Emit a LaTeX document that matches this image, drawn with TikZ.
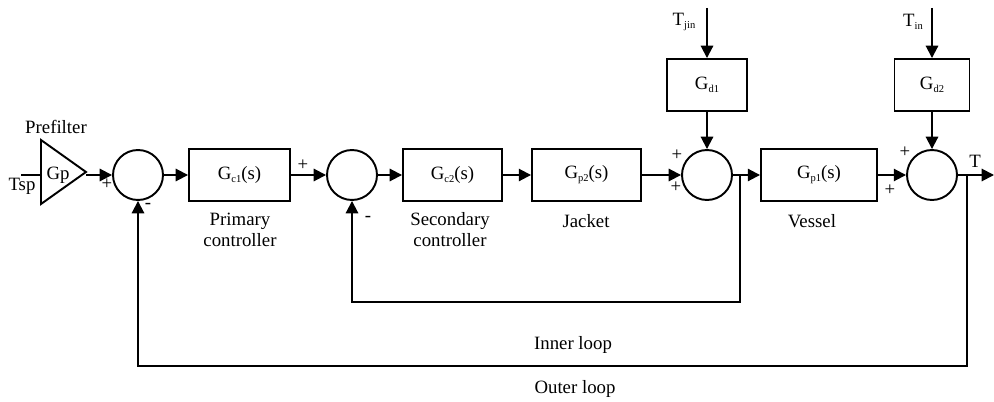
\documentclass[tikz,border=0pt]{standalone}
\usepackage{fontspec}
\setmainfont{Liberation Serif}
\usetikzlibrary{arrows.meta}
\begin{document}
\begin{tikzpicture}[x=0.02cm,y=-0.02cm,
  every node/.style={font=\fontsize{10.7}{12}\selectfont, inner sep=0pt},
  blk/.style={draw, line width=1.1pt, minimum height=1.04cm},
  sumc/.style={draw, circle, line width=1.1pt, minimum size=1cm},
  wire/.style={line width=1.1pt},
  arr/.style={wire, -{Triangle[length=7pt,width=7pt]}},
  sub/.style={}]
\newcommand{\sbs}[1]{\raisebox{-0.35ex}{\fontsize{6}{6}\selectfont #1}}
\useasboundingbox (0,0) rectangle (994,402);
% prefilter
\draw[wire] (41,140) -- (86,172) -- (41,204) -- cycle;
\coordinate (gpapex) at (86,175);
\coordinate (tspin) at (21,175);
\node (gp) at (58,175) {Gp};
\node (pref) at (56,127) {Prefilter};
\node (tsp) at (22,186) {Tsp};
% blocks
\node[sumc] (s1) at (138,175) {};
\node[blk, minimum width=2.02cm] (gc1) at (239.5,175) {G\sbs{c1}(s)};
\node[sumc] (s2) at (352,175) {};
\node[blk, minimum width=1.98cm] (gc2) at (452.5,175) {G\sbs{c2}(s)};
\node[blk, minimum width=2.18cm] (gp2) at (586.5,175) {G\sbs{p2}(s)};
\node[sumc] (s3) at (707,175) {};
\node[blk, minimum width=1.6cm] (gd1) at (707,85) {G\sbs{d1}};
\node[blk, minimum width=2.32cm] (gp1) at (819,175) {G\sbs{p1}(s)};
\node[sumc] (s4) at (932,175) {};
\node[blk, minimum width=1.5cm] (gd2) at (932,85) {G\sbs{d2}};
\coordinate (tjinsrc) at (707,8);
\coordinate (tinsrc) at (932,8);
\coordinate (out) at (994,175);
% labels
\node (l1) at (240,221) {Primary};
\node (l1b) at (240,240) {controller};
\node (l2) at (450,221) {Secondary};
\node (l2b) at (450,240) {controller};
\node (l3) at (586,221) {Jacket};
\node (l4) at (812,221) {Vessel};
\node (tjin) at (684,22) {T\sbs{jin}};
\node (tin) at (913,22) {T\sbs{in}};
\node (tout) at (975,161) {T};
\node (inner) at (573,345) {Inner loop};
\node (outer) at (575,389) {Outer loop};
% signs
\node at (107,184) {+};
\node at (148,206) {-};
\node at (303,165) {+};
\node at (368,219) {-};
\node at (677,155) {+};
\node at (676,187) {+};
\node at (905,152) {+};
\node at (890,190) {+};
% connectors
\draw[wire] (tspin) -- (41,175);
\draw[arr] (gpapex) -- (s1);
\draw[arr] (s1) -- (gc1);
\draw[arr] (gc1) -- (s2);
\draw[arr] (s2) -- (gc2);
\draw[arr] (gc2) -- (gp2);
\draw[arr] (gp2) -- (s3);
\draw[arr] (tjinsrc) -- (gd1);
\draw[arr] (gd1) -- (s3);
\draw[arr] (s3) -- (gp1);
\draw[arr] (gp1) -- (s4);
\draw[arr] (tinsrc) -- (gd2);
\draw[arr] (gd2) -- (s4);
\draw[arr] (s4) -- (out);
\coordinate (b1) at (740,175);
\coordinate (b2) at (967,175);
\draw[arr] (b1) -- (740,302) -| (s2.south);
\draw[arr] (b2) -- (967,366) -| (s1.south);
\end{tikzpicture}
\end{document}
